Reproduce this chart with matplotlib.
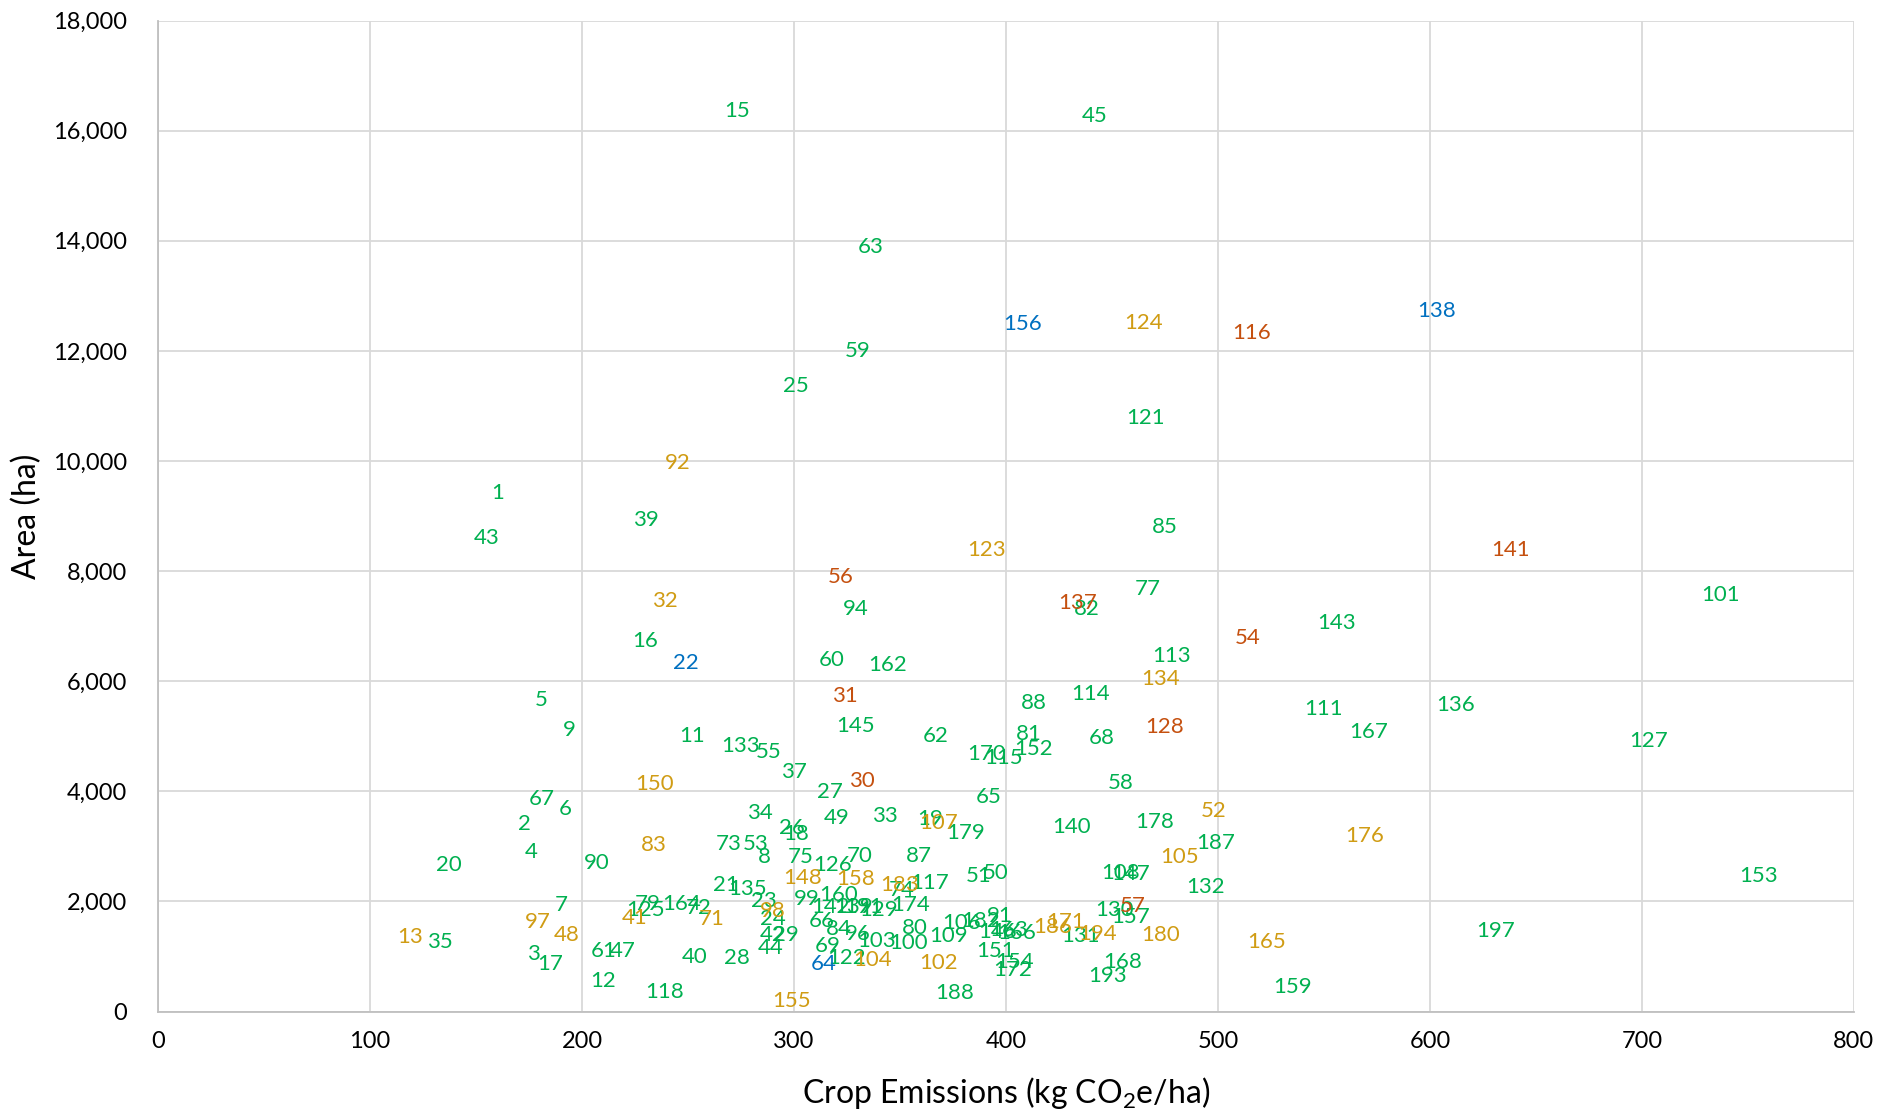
import matplotlib
matplotlib.use("Agg")
import matplotlib.pyplot as plt
from matplotlib.ticker import FuncFormatter, MultipleLocator

plt.rcParams['font.family'] = ['Lato', 'DejaVu Sans']

# ---- data: (label ids, crop emissions, area) per colour group ----
green_ids = [15, 45, 63, 59, 25, 121, 1, 43, 39, 85, 77, 94, 82, 143, 101, 16, 113, 60, 162,
             5, 9, 11, 133, 55, 145, 62, 88, 114, 81, 152, 170, 115, 68, 136, 111, 167, 127,
             37, 58, 27, 65, 67, 6, 2, 34, 49, 33, 19, 179, 140, 178, 26, 18, 73, 53, 8, 75,
             4, 90, 20, 126, 70, 87, 187, 51, 50, 108, 147, 117, 132, 153, 21, 135, 23, 99,
             160, 142, 139, 191, 129, 174, 7, 164, 72, 79, 125, 24, 66, 42, 29, 84, 96, 80,
             103, 100, 109, 69, 122, 44, 40, 28, 61, 47, 12, 118, 3, 17, 35, 188, 193, 168,
             131, 130, 157, 151, 154, 172, 159, 197, 74, 106, 182, 91, 146, 163, 166]
green_x = [273, 442, 336, 330, 301, 466, 160, 155, 230, 475, 467, 329, 438, 556, 737, 230, 478, 318, 344,
           181, 194, 252, 275, 288, 329, 367, 413, 440, 411, 413, 391, 399, 445, 612, 550, 571, 703,
           300, 454, 317, 392, 181, 192, 173, 284, 320, 343, 364, 381, 431, 470, 299, 301, 269, 282, 286, 303,
           176, 207, 137, 318, 331, 359, 499, 387, 395, 454, 459, 364, 494, 755, 268, 278, 286, 306,
           321, 317, 328, 333, 340, 355, 190, 247, 255, 231, 230, 290, 313, 290, 296, 321, 330, 357,
           339, 354, 373, 316, 325, 289, 253, 273, 210, 219, 210, 239, 177, 185, 133, 376, 448, 455,
           435, 451, 459, 395, 404, 403, 535, 631, 351, 379, 388, 397, 396, 401, 405]
green_y = [16350, 16260, 13880, 12000, 11360, 10790, 9420, 8600, 8930, 8800, 7680, 7320, 7320, 7060, 7570, 6730, 6460, 6380, 6290,
           5650, 5120, 5010, 4830, 4720, 5180, 5010, 5600, 5760, 5050, 4770, 4680, 4610, 4960, 5560, 5490, 5070, 4920,
           4350, 4150, 3990, 3900, 3860, 3680, 3400, 3600, 3510, 3550, 3490, 3240, 3350, 3440, 3330, 3220, 3040, 3040, 2800, 2800,
           2890, 2690, 2670, 2670, 2820, 2820, 3070, 2470, 2520, 2520, 2490, 2340, 2270, 2470, 2290, 2230, 2010, 2050,
           2120, 1900, 1900, 1900, 1850, 1940, 1940, 1960, 1880, 1960, 1850, 1680, 1650, 1390, 1390, 1500, 1410, 1520,
           1280, 1240, 1370, 1190, 970, 1150, 990, 970, 1100, 1100, 550, 350, 1040, 860, 1260, 330, 640, 900,
           1370, 1850, 1720, 1100, 900, 750, 440, 1460, 2200, 1610, 1640, 1730, 1440, 1480, 1420]

orange_ids = [92, 32, 123, 124, 134, 150, 83, 52, 176, 105, 107, 148, 158, 183, 41, 71, 98, 97,
              48, 13, 186, 171, 194, 180, 165, 102, 104, 155]
orange_x = [245, 239, 391, 465, 473, 234, 234, 498, 569, 482, 368, 304, 329, 350, 225, 261, 290, 179,
            193, 119, 422, 428, 443, 473, 523, 368, 337, 299]
orange_y = [9970, 7460, 8380, 12510, 6040, 4130, 3020, 3640, 3180, 2800, 3420, 2430, 2400, 2290, 1700, 1680, 1830, 1630,
            1390, 1350, 1540, 1630, 1410, 1390, 1260, 880, 930, 200]

red_ids = [56, 116, 141, 137, 54, 31, 30, 128, 57]
red_x = [322, 516, 638, 434, 514, 324, 332, 475, 460]
red_y = [7900, 12330, 8380, 7430, 6790, 5740, 4190, 5160, 1920]

blue_ids = [156, 138, 22, 64]
blue_x = [408, 603, 249, 314]
blue_y = [12490, 12730, 6330, 860]

x_ticks = [0, 100, 200, 300, 400, 500, 600, 700, 800]
y_ticks = [0, 2000, 4000, 6000, 8000, 10000, 12000, 14000, 16000, 18000]

groups = [
    (green_ids, green_x, green_y, '#00B050'),
    (orange_ids, orange_x, orange_y, '#D09C14'),
    (red_ids, red_x, red_y, '#C5500F'),
    (blue_ids, blue_x, blue_y, '#0070C0'),
]

fig = plt.figure(figsize=(19.04, 11.15), dpi=100)
ax = fig.add_axes([0.083, 0.0928, 0.8907, 0.8887])

for ids, xs, ys, col in groups:
    ax.scatter(xs, ys, s=0, alpha=0)
    for lab, xv, yv in zip(ids, xs, ys):
        ax.text(xv, yv, str(lab), color=col, fontsize=16, ha='center', va='center')

ax.set_xlim(0, 800)
ax.set_ylim(0, 18000)
ax.set_xticks(x_ticks)
ax.set_yticks(y_ticks)
ax.yaxis.set_major_formatter(FuncFormatter(lambda v, p: f"{int(v):,}"))
ax.grid(True, color='#D9D9D9', linewidth=1.3)
ax.set_axisbelow(True)
for side in ['top', 'right']:
    ax.spines[side].set_visible(False)
for side in ['left', 'bottom']:
    ax.spines[side].set_color('#BFBFBF')
    ax.spines[side].set_linewidth(1.3)
ax.tick_params(axis='both', length=0, labelsize=17, colors='#000000')
ax.tick_params(axis='y', pad=22)
ax.tick_params(axis='x', pad=14)

ax.set_xlabel('Crop Emissions (kg CO$\\mathregular{_2}$e/ha)', fontsize=23)
ax.set_ylabel('Area (ha)', fontsize=23)
ax.xaxis.set_label_coords(0.5, -0.082)
ax.yaxis.set_label_coords(-0.0772, 0.5)
ax.xaxis.label.set_va('center')
ax.yaxis.label.set_va('center')

fig.savefig('out.png', dpi=100)
